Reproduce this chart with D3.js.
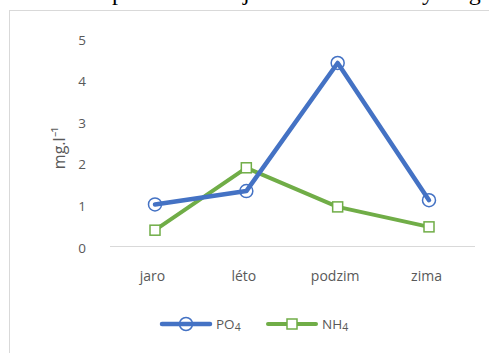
<!DOCTYPE html>
<html>
<head>
<meta charset="utf-8">
<script src="https://cdn.jsdelivr.net/npm/d3@7/dist/d3.min.js"></script>
<style>
  html, body { margin: 0; padding: 0; background: #fff; }
  svg { display: block; }
</style>
</head>
<body>
<svg id="chart" width="489" height="353"></svg>
<script>
// Seasons and measured concentrations (mg.l-1)
const seasons = ["jaro", "léto", "podzim", "zima"];
const po4 = [1.0, 1.32, 4.4, 1.1];
const nh4 = [0.38, 1.88, 0.94, 0.46];
const yTicks = [0, 1, 2, 3, 4, 5];

const svg = d3.select("#chart");
const W = 489, H = 353;
const labelFont = "'Open Sans', 'Liberation Sans', sans-serif";
const textColor = "#595959";

// Caption line above the chart (only its lower edge falls inside the page)
const captionWords = [["Sezonní", 30], ["průběh", 112], ["jednotlivé", 243], ["živiny v", 374], ["mg", 450]];
svg.append("g").selectAll("text").data(captionWords).join("text")
  .attr("x", d => d[1])
  .attr("y", 0)
  .attr("font-family", "'Liberation Serif', 'Times New Roman', serif")
  .attr("font-size", 24)
  .attr("fill", "#000")
  .text(d => d[0]);

// Chart area frame
svg.append("rect")
  .attr("x", 9.5).attr("y", 10.5)
  .attr("width", W + 10).attr("height", H + 10)
  .attr("fill", "none")
  .attr("stroke", "#d9d9d9")
  .attr("stroke-width", 1);

const x = d3.scalePoint().domain(seasons).range([155, 429]);
const y = d3.scaleLinear().domain([0, 5]).range([246, 38]);

// Y axis: labels only
const yAxis = svg.append("g")
  .attr("transform", "translate(82,0)")
  .call(d3.axisLeft(y).tickValues(yTicks).tickSize(0).tickPadding(0).tickFormat(d3.format("d")));
yAxis.select(".domain").remove();
yAxis.selectAll("text")
  .attr("font-family", labelFont).attr("font-size", 13.5)
  .attr("fill", textColor).attr("text-anchor", "middle")
  .attr("dy", "0.45em");

// X axis: baseline and category labels
const xAxis = svg.append("g")
  .attr("transform", `translate(0,${y(0)})`)
  .call(d3.axisBottom(x).tickSize(0).tickPadding(25));
xAxis.select(".domain").remove();
xAxis.append("line")
  .attr("x1", 110).attr("x2", 475)
  .attr("y1", 0.5).attr("y2", 0.5)
  .attr("stroke", "#d9d9d9").attr("stroke-width", 1);
xAxis.selectAll(".tick text")
  .attr("font-family", labelFont).attr("font-size", 14)
  .attr("fill", textColor).attr("dx", -3);

// Y axis title
svg.append("text")
  .attr("transform", "translate(65,148) rotate(-90)")
  .attr("text-anchor", "middle")
  .attr("font-family", labelFont).attr("font-size", 16)
  .attr("fill", textColor)
  .text("mg.l⁻¹");

const line = d3.line().x((d, i) => x(seasons[i])).y(d => y(d));

const blue = "#4472C4", green = "#70AD47";

// NH4 series
svg.append("path").datum(nh4)
  .attr("d", line).attr("fill", "none")
  .attr("stroke", green).attr("stroke-width", 4)
  .attr("stroke-linejoin", "round").attr("stroke-linecap", "round");

// PO4 series
svg.append("path").datum(po4)
  .attr("d", line).attr("fill", "none")
  .attr("stroke", blue).attr("stroke-width", 4.5)
  .attr("stroke-linejoin", "round").attr("stroke-linecap", "round");

svg.selectAll(".mk-po4").data(po4).join("circle")
  .attr("class", "mk-po4")
  .attr("cx", (d, i) => x(seasons[i])).attr("cy", d => y(d))
  .attr("r", 6.5)
  .attr("fill", "none").attr("stroke", blue).attr("stroke-width", 1.5);

svg.selectAll(".mk-nh4").data(nh4).join("rect")
  .attr("class", "mk-nh4")
  .attr("x", (d, i) => x(seasons[i]) - 5).attr("y", d => y(d) - 5)
  .attr("width", 10).attr("height", 10)
  .attr("fill", "#fff").attr("stroke", green).attr("stroke-width", 1.5);

// Legend
const legY = 324;
const leg = svg.append("g");
leg.append("line").attr("x1", 162).attr("x2", 210).attr("y1", legY).attr("y2", legY)
  .attr("stroke", blue).attr("stroke-width", 4.5).attr("stroke-linecap", "round");
leg.append("circle").attr("cx", 186).attr("cy", legY).attr("r", 6.5)
  .attr("fill", "none").attr("stroke", blue).attr("stroke-width", 1.5);
const t1 = leg.append("text").attr("x", 216).attr("y", legY).attr("dy", "0.38em")
  .attr("font-family", labelFont).attr("font-size", 13.5).attr("fill", textColor);
t1.append("tspan").text("PO");
t1.append("tspan").attr("font-size", 10.5).attr("dy", "0.2em").text("4");

leg.append("line").attr("x1", 268).attr("x2", 316).attr("y1", legY).attr("y2", legY)
  .attr("stroke", green).attr("stroke-width", 4).attr("stroke-linecap", "round");
leg.append("rect").attr("x", 287).attr("y", legY - 5).attr("width", 10).attr("height", 10)
  .attr("fill", "#fff").attr("stroke", green).attr("stroke-width", 1.5);
const t2 = leg.append("text").attr("x", 322).attr("y", legY).attr("dy", "0.38em")
  .attr("font-family", labelFont).attr("font-size", 13.5).attr("fill", textColor);
t2.append("tspan").text("NH");
t2.append("tspan").attr("font-size", 10.5).attr("dy", "0.2em").text("4");
</script>
</body>
</html>
